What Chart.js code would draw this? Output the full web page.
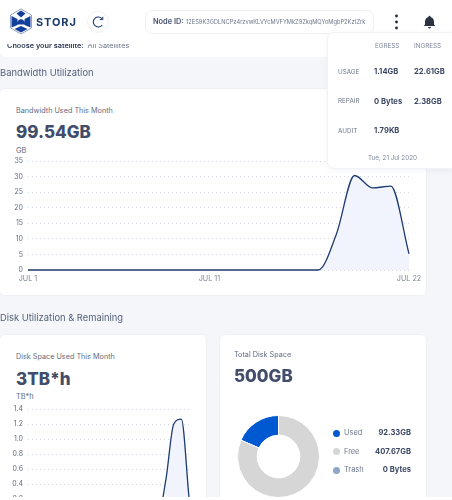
<!DOCTYPE html>
<html><head><meta charset="utf-8">
<script src="https://cdn.jsdelivr.net/npm/chart.js@4"></script>
<style>
html,body{margin:0;padding:0;background:#f5f6fa;}
body{width:452px;height:500px;overflow:hidden;position:relative;font-family:Inter,"Noto Sans",sans-serif;color:#535f77;}
.a{position:absolute;white-space:nowrap;line-height:1;}
.card{position:absolute;background:#fff;border:1px solid #eff0f4;border-radius:6px;box-sizing:border-box;}
.big{font-weight:800;font-size:17px;color:#414d6a;}
.sub{font-size:7.25px;color:#5f6b82;}
.unit{font-size:7.4px;color:#5f6b82;}
.h2{font-size:9.4px;color:#535f77;}
.th{font-size:6.3px;color:#7d8698;}
.rl{font-size:6.3px;color:#6d778b;}
.v{font-size:7.6px;font-weight:700;color:#3c4863;}
.stage{position:absolute;left:0;top:0;width:452px;height:500px;overflow:hidden;filter:blur(.25px);}
canvas{display:block;}
</style></head><body>
<div class="stage">
<div class="a" style="left:0;top:42px;width:452px;height:15px;background:#fff;border-radius:0 0 6px 6px;"></div>
<div class="a" style="left:7px;top:41.5px;font-size:7.3px;font-weight:600;color:#2f3a52;">Choose your satellite:<span style="font-weight:400;color:#6d778b;margin-left:4px;">All Satellites</span></div>
<div class="a" style="left:0;top:0;width:452px;height:44px;background:#fff;"></div>

<svg class="a" style="left:9px;top:8px" width="24" height="27" viewBox="0 0 24 27">
<path d="M12 1 L22.5 7 V20 L12 26 L1.5 20 V7Z" fill="none" stroke="#8fa3c8" stroke-width="1"/>
<path d="M2.5 8 L8.5 11 V17 L2.5 19.5Z M21.5 8 L15.5 11 V17 L21.5 19.5Z" fill="#123f9c"/>
<path d="M7.5 5.5 L12 2.5 L16.5 5.5 L12 9.5Z" fill="#123f9c"/>
<path d="M7.5 16.5 Q8 12 12 11 Q16 12 16.5 16.5Z" fill="#123f9c"/>
<path d="M5.5 21 L12 18 L18.5 21 L12 24.5Z" fill="#123f9c"/>
</svg>
<div class="a" style="left:36px;top:16.5px;font-size:11px;font-weight:700;letter-spacing:.9px;color:#1c3a6e;">STORJ</div>
<div class="a" style="left:87px;top:11px;width:22px;height:22px;border:1px solid #f0f1f4;border-radius:50%;box-sizing:border-box;"></div>
<svg class="a" style="left:91px;top:15px" width="14" height="14" viewBox="0 0 14 14"><path d="M11.3 4 A5 5 0 1 0 11.3 10" fill="none" stroke="#1c3a6e" stroke-width="1.1"/><path d="M8.8 4.6 L11.8 4.6 L11.8 1.8" fill="none" stroke="#1c3a6e" stroke-width="1"/></svg>

<div class="a" style="left:145px;top:10px;width:229px;height:24px;border:1px solid #eff0f4;border-radius:7px;box-sizing:border-box;background:#fff;"></div>
<div class="a" style="left:153px;top:18px;font-size:7.4px;font-weight:600;color:#47536c;">Node ID:</div>
<div class="a" style="left:186px;top:18.5px;font-size:5.7px;color:#6d778b;">12ES9K3GDLNCPz4rzvwKLVYcMVFYMkZ9ZkqMQYoMgbP2KztZrk</div>

<svg class="a" style="left:392px;top:13px" width="9" height="18"><circle cx="4.5" cy="3" r="1.4" fill="#1f2937"/><circle cx="4.5" cy="9" r="1.4" fill="#1f2937"/><circle cx="4.5" cy="15" r="1.4" fill="#1f2937"/></svg>
<svg class="a" style="left:423px;top:15px" width="13" height="14" viewBox="0 0 13 14"><path d="M6.5 .8 Q7.6 .8 7.6 2 Q11 3 11 7 V9.5 L12.3 11 H.7 L2 9.5 V7 Q2 3 5.4 2 Q5.4 .8 6.5 .8Z" fill="#2a3342"/><path d="M5 12 H8 Q7.6 13.6 6.5 13.6 Q5.4 13.6 5 12Z" fill="#2a3342"/></svg>

<div class="a h2" style="left:0;top:68.3px;">Bandwidth Utilization</div>
<div class="card" style="left:-1px;top:88px;width:428px;height:208px;"></div>
<div class="a sub" style="left:16px;top:107px;">Bandwidth Used This Month</div>
<div class="a big" style="left:16px;top:123.5px;">99.54GB</div>
<div class="a unit" style="left:16px;top:147px;">GB</div>
<div class="a" style="left:0;top:152px;width:427px;height:134px;"><canvas id="bw"></canvas></div>

<div class="a h2" style="left:0;top:313.3px;">Disk Utilization &amp; Remaining</div>
<div class="card" style="left:-1px;top:334px;width:208px;height:180px;"></div>
<div class="card" style="left:219px;top:334px;width:208px;height:180px;"></div>
<div class="a sub" style="left:16px;top:353.3px;">Disk Space Used This Month</div>
<div class="a big" style="left:16px;top:370.5px;">3TB*h</div>
<div class="a unit" style="left:16px;top:393.3px;">TB*h</div>
<div class="a" style="left:0;top:400px;width:207px;height:130px;"><canvas id="disk"></canvas></div>

<div class="a sub" style="left:234px;top:351px;">Total Disk Space</div>
<div class="a big" style="left:234px;top:367.5px;">500GB</div>
<div class="a" style="left:230px;top:408px;width:97px;height:97px;"><canvas id="donut"></canvas></div>
<div id="legend"></div>

<div class="a" style="left:0;top:497px;width:452px;height:3px;background:#fff;"></div>

<div class="a" style="left:327px;top:32px;width:130px;height:137px;background:#fff;border:1px solid #f1f2f5;border-radius:7px;box-sizing:border-box;box-shadow:0 2px 6px rgba(120,130,160,.08);"></div>
<div id="panel"></div>
</div>
<script>
const bwLabels = ["JUL 1","JUL 2","JUL 3","JUL 4","JUL 5","JUL 6","JUL 7","JUL 8","JUL 9","JUL 10","JUL 11","JUL 12","JUL 13","JUL 14","JUL 15","JUL 16","JUL 17","JUL 18","JUL 19","JUL 20","JUL 21","JUL 22"];
const bwValues = [0,0,0,0,0,0,0,0,0,0,0,0,0,0,0,0,0,11.6,30.4,26.4,27,5.2];
const diskValues = [0,0,0,0,0,0,0,0,0,0,0,0,0,0,0,0,0,0,0.47,1.2,1.267,0.22];
const bwTicks = [0,5,10,15,20,25,30,35];
const diskTicks = [0,0.2,0.4,0.6,0.8,1.0,1.2,1.4];
const xTickIndexes = [0,10,21];
const donutLabels = ["Used","Free","Trash"];
const donutValues = [92.33,407.67,0];
const donutText = ["92.33GB","407.67GB","0 Bytes"];
const donutColors = ["#0059d0","#d6d6d6","#8fa7c6"];
const panelHead = ["EGRESS","INGRESS"];
const panelRows = [["USAGE","1.14GB","22.61GB"],["REPAIR","0 Bytes","2.38GB"],["AUDIT","1.79KB",""]];
const panelDate = "Tue, 21 Jul 2020";

function lineChart(id, values, ticks, maxV, dec, padR, padT){
  new Chart(document.getElementById(id),{type:'line',
    data:{labels:bwLabels,datasets:[{data:values,borderColor:'#1e3c70',borderWidth:1.3,backgroundColor:'#f1f4fc',fill:true,pointRadius:0,cubicInterpolationMode:'monotone',clip:false}]},
    options:{responsive:true,maintainAspectRatio:false,animation:false,
      layout:{padding:{left:0,right:padR,top:padT,bottom:0}},
      plugins:{legend:{display:false},tooltip:{enabled:false}},
      scales:{
        x:{grid:{display:false,drawTicks:false},border:{display:false},
           afterFit:s=>{s.height=16;},
           ticks:{autoSkip:false,maxRotation:0,font:{size:7.2,family:'Inter'},color:'#7d8698',padding:5,
             callback:function(v,i){return xTickIndexes.includes(i)?this.getLabelForValue(v):'';}}},
        y:{min:0,max:maxV,afterBuildTicks:s=>{s.ticks=ticks.map(v=>({value:v}));},
           afterFit:s=>{s.width=28;},
           border:{display:false,dash:[1,3]},
           grid:{color:'#d3d7df',lineWidth:1,drawTicks:false},
           ticks:{font:{size:7,family:'Inter'},color:'#5f6b82',padding:5,callback:v=>dec?v.toFixed(1):String(v)}}
      }}
  });
}
lineChart('bw',bwValues,bwTicks,35,false,18,9);
lineChart('disk',diskValues,diskTicks,1.4,true,18,8);

const total = donutValues.reduce((a,b)=>a+b,0);
new Chart(document.getElementById('donut'),{type:'doughnut',
  data:{labels:donutLabels,datasets:[{data:donutValues,backgroundColor:donutColors,borderColor:'#fff',borderWidth:1}]},
  options:{responsive:true,maintainAspectRatio:false,animation:false,cutout:'52%',rotation:-360*donutValues[0]/total,
    layout:{padding:7},plugins:{legend:{display:false},tooltip:{enabled:false}}}});

const lg=document.getElementById('legend');
donutLabels.forEach((l,i)=>{const y=433+i*18.7;
  lg.insertAdjacentHTML('beforeend',
   `<div class="a" style="left:332.5px;top:${y-3.5}px;width:7px;height:7px;border-radius:50%;background:${donutColors[i]}"></div>
    <div class="a" style="left:344px;top:${y-4}px;font-size:7.4px;color:#6d778b">${l}</div>
    <div class="a v" style="right:41px;top:${y-4}px;">${donutText[i]}</div>`);});

const p=document.getElementById('panel');
panelHead.forEach((h,i)=>p.insertAdjacentHTML('beforeend',`<div class="a th" style="left:${[375,414][i]}px;top:43px">${h}</div>`));
panelRows.forEach((r,i)=>{const y=[68.5,98,127.5][i];
  p.insertAdjacentHTML('beforeend',
   `<div class="a rl" style="left:338px;top:${y}px">${r[0]}</div>
    <div class="a v" style="left:374px;top:${y-.5}px">${r[1]}</div>
    <div class="a v" style="left:414px;top:${y-.5}px">${r[2]}</div>`);});
p.insertAdjacentHTML('beforeend',`<div class="a th" style="left:368px;top:155px">${panelDate}</div>`);
</script>
</body></html>
